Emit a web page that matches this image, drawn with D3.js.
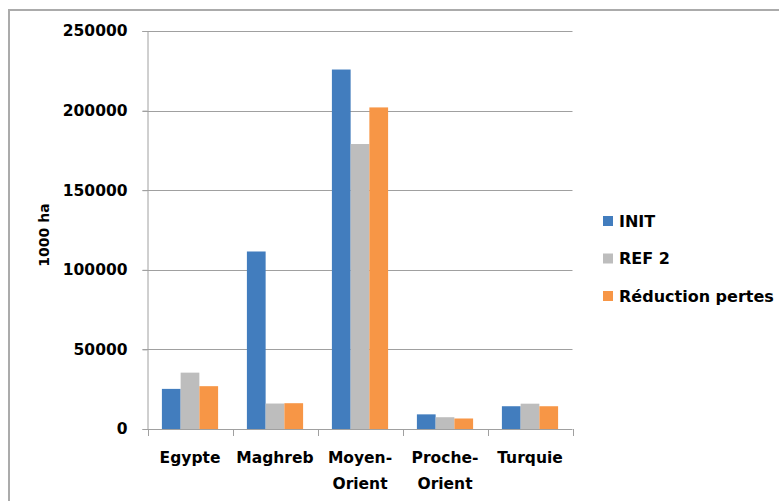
<!DOCTYPE html>
<html>
<head>
<meta charset="utf-8">
<script src="https://cdn.jsdelivr.net/npm/d3@7"></script>
<style>
  html, body { margin: 0; padding: 0; background: #fff; }
  svg { display: block; }
  text { font-family: "DejaVu Sans", sans-serif; font-weight: bold; fill: #000; }
</style>
</head>
<body>
<svg id="chart" width="779" height="501"></svg>
<script>
const categories = [["Egypte"], ["Maghreb"], ["Moyen-", "Orient"], ["Proche-", "Orient"], ["Turquie"]];
const seriesNames = ["INIT", "REF 2", "Réduction pertes"];
const initValues = [25200, 111500, 225800, 9200, 14300];
const ref2Values = [35400, 16000, 179000, 7400, 15900];
const reductionValues = [26900, 16200, 202000, 6600, 14300];
const yTicks = [0, 50000, 100000, 150000, 200000, 250000];
const colors = ["#427DBE", "#BDBDBD", "#F79646"];

(function () {
const series = [initValues, ref2Values, reductionValues];
const svg = d3.select("#chart");

// outer frame (top and left visible)
svg.append("path").attr("d", "M9,501 V10 H779").attr("fill", "none")
  .attr("stroke", "#ababab").attr("stroke-width", 2);

const pLeft = 147.5, pRight = 572.5, pTop = 31, pBottom = 429;
const catIdx = categories.map((d, i) => i);
const x = d3.scaleBand().domain(catIdx).range([pLeft, pRight]).padding(0);
const xs = d3.scaleBand().domain([0, 1, 2]).range([14.4, x.bandwidth() - 14.4]).padding(0);
const y = d3.scaleLinear().domain([0, 250000]).range([pBottom, pTop]);

// gridlines
svg.append("g").selectAll("line").data(yTicks.filter(t => t > 0)).join("line")
  .attr("x1", pLeft - 5).attr("x2", pRight)
  .attr("y1", d => Math.round(y(d)) + 0.5).attr("y2", d => Math.round(y(d)) + 0.5)
  .attr("stroke", "#a0a0a0").attr("stroke-width", 1);

// bars
const groups = svg.append("g").selectAll("g").data(series).join("g")
  .attr("fill", (d, i) => colors[i]);
groups.each(function(vals, si) {
  d3.select(this).selectAll("rect").data(vals).join("rect")
    .attr("x", (v, ci) => x(ci) + xs(si))
    .attr("width", xs.bandwidth())
    .attr("y", v => y(v))
    .attr("height", v => pBottom - y(v));
});

// y axis
const yAxis = d3.axisLeft(y).tickValues(yTicks).tickSize(5).tickPadding(15).tickFormat(d3.format("d"));
const gy = svg.append("g").attr("transform", `translate(${pLeft},0)`).call(yAxis);
gy.select(".domain").attr("stroke", "#a0a0a0");
gy.selectAll(".tick line").attr("stroke", "#a0a0a0");
gy.selectAll(".tick text").style("font-size", "15.5px").style("font-family", "DejaVu Sans").style("font-weight", "bold").attr("fill", "#000");

// x axis
const xAxis = d3.axisBottom(x).tickSize(0).tickFormat("");
const gx = svg.append("g").attr("transform", `translate(0,${pBottom + 0.5})`).call(xAxis);
gx.select(".domain").attr("stroke", "#a0a0a0").attr("d", `M${pLeft},0H${pRight}`);
// category boundary ticks
svg.append("g").selectAll("line").data(d3.range(categories.length + 1)).join("line")
  .attr("x1", i => Math.round(pLeft + i * x.bandwidth()) + 0.5)
  .attr("x2", i => Math.round(pLeft + i * x.bandwidth()) + 0.5)
  .attr("y1", pBottom).attr("y2", pBottom + 7)
  .attr("stroke", "#a0a0a0");

// category labels
const lab = svg.append("g").selectAll("text").data(categories).join("text")
  .attr("text-anchor", "middle")
  .style("font-size", "15.5px");
lab.each(function(lines, i) {
  const t = d3.select(this);
  lines.forEach((ln, k) => {
    t.append("tspan").attr("x", x(i) + x.bandwidth() / 2).attr("y", 463 + k * 25.5).text(ln);
  });
});

// y axis title
svg.append("text").attr("transform", "translate(49,235) rotate(-90)")
  .attr("text-anchor", "middle").style("font-size", "14px").text("1000 ha");

// legend
const lg = svg.append("g").selectAll("g").data(seriesNames).join("g")
  .attr("transform", (d, i) => `translate(603,${221 + i * 37.5})`);
lg.append("rect").attr("x", 0).attr("y", -5).attr("width", 10).attr("height", 10)
  .attr("fill", (d, i) => colors[i]);
lg.append("text").attr("x", 16).attr("y", 5.5).style("font-size", "16px").text(d => d);
})();
</script>
</body>
</html>
